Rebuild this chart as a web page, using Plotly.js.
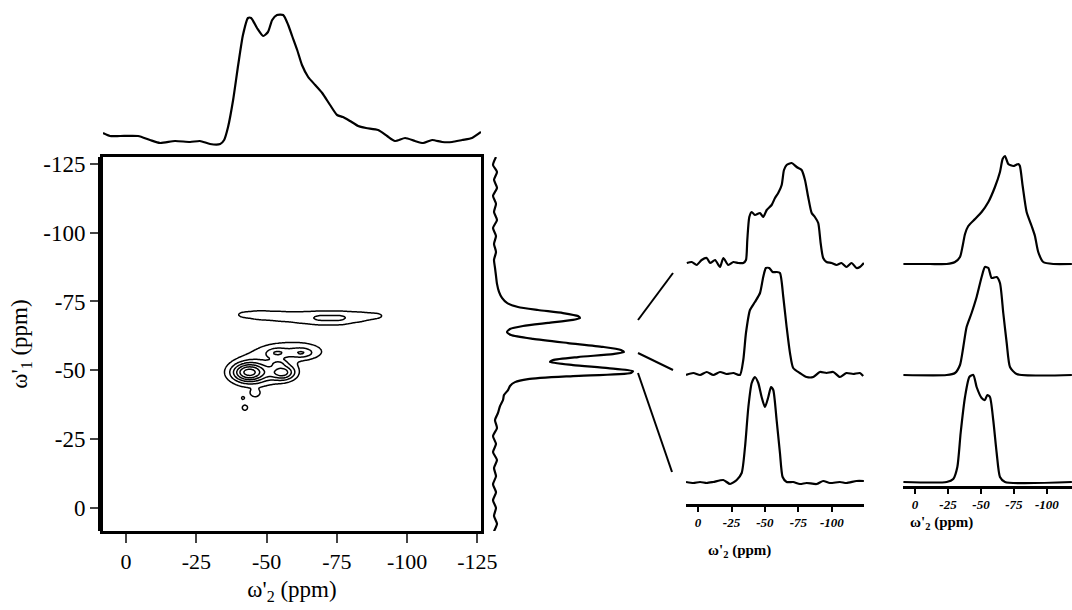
<!DOCTYPE html>
<html>
<head>
<meta charset="utf-8">
<script src="https://cdn.plot.ly/plotly-3.0.1.min.js"></script>
<style>html,body{margin:0;padding:0;background:#fff;}#chart{width:1072px;height:610px;}</style>
</head>
<body>
<div id="chart"></div>
<script>
// ---------- main 2D spectrum: peaks ----------
var peakW2 = [-41, -48, -55, -62, -69, -76, -83, -90, -60, -47, -43.6, -55.9, -53.7, -62.6, -54.1, -45.9, -42.3, -41.6];
var peakW1 = [-70.2, -70.0, -69.6, -69.2, -69.0, -69.0, -69.4, -69.8, -57, -50, -49.2, -49.2, -56.3, -56.3, -52.6, -41.6, -36.4, -39.9];
var peakSx = [3.5, 3.5, 3.5, 3.5, 3.5, 3.5, 3.5, 3.5, 9, 7, 4.2, 3.2, 2.6, 2.8, 2.0, 1.3, 1.0, 0.6];
var peakSy = [1.8, 2.1, 2.2, 2.2, 2.0, 2.0, 2.0, 1.7, 3.0, 5.0, 2.4, 2.0, 1.2, 1.2, 0.9, 1.0, 1.0, 0.6];
var peakAmp = [0.19, 0.22, 0.22, 0.24, 0.36, 0.36, 0.23, 0.19, 0.33, 0.30, 1.05, 0.78, 0.3, 0.3, 0.25, 0.3, 0.3, 0.25];
var contourLevels = {start: 0.2, end: 2.0, size: 0.2};

// ---------- top projection (omega'2) ----------
var topW2 = [8.2, 5.7, 2.1, -4.3, -8.5, -12.1, -17.4, -22.8, -26.3, -29.9, -33.5, -34.9, -36.3, -38.1, -39.9, -41.6, -43.4, -44.5, -46.6, -48.8, -50.5, -52.0, -53.7, -55.9, -57.7, -59.1, -60.9, -62.6, -64.8, -67.3, -69.8, -72.6, -75.1, -77.2, -79.7, -82.6, -85.4, -89.7, -92.9, -95.7, -99.3, -102.8, -105.7, -108.9, -112.5, -116.0, -119.6, -123.1, -126.3];
var topI  = [12, 9, 9, 9, 5, 2, 4, 3, 4, 1, 1, 5, 18, 45, 80, 110, 127, 127, 117, 109, 113, 125, 130, 130, 120, 109, 95, 80, 68, 60, 52, 40, 30, 28, 24, 19, 17, 15, 9, 4, 7, 4, 2, 5, 3, 3, 5, 7, 13];

// ---------- right projection (omega'1) ----------
var rightW1 = [-127.5, -124.6, -122.1, -119.2, -116.3, -113.4, -110.5, -107.5, -104.6, -101.7, -98.8, -95.9, -93.0, -90.1, -87.2, -84.3, -81.4, -78.5, -76.3, -74.5, -73.0, -71.9, -70.8, -69.7, -69.0, -68.3, -67.2, -66.1, -65.0, -63.9, -62.8, -61.4, -59.9, -58.5, -57.4, -56.6, -55.9, -54.8, -53.7, -53.0, -51.9, -50.8, -49.7, -49.0, -47.9, -46.8, -45.7, -44.3, -42.8, -41.0, -39.2, -37.0, -34.5, -31.9, -29.0, -26.1, -23.2, -20.3, -17.4, -14.5, -11.5, -8.6, -5.7, -2.8, 0, 2.9, 5.8, 8.5];
var rightI  = [3, 0, 4, 1, 4, 0, 3, 1, 4, 0, 3, 1, 3, 1, 2, 3, 4, 6, 9, 14, 25, 45, 70, 85, 87, 80, 55, 30, 17, 14, 18, 40, 75, 110, 128, 131, 120, 85, 60, 57, 80, 115, 140, 138, 80, 35, 22, 17, 15, 11, 10, 7, 5, 2, 4, 0, 3, 0, 4, 1, 3, 0, 3, 0, 3, 1, 4, 1];

// ---------- slices, experimental column ----------
var expTopW2 = [8.4, 4.7, 1.0, -2.7, -6.5, -9.0, -12.7, -16.4, -18.9, -22.6, -26.4, -30.1, -33.8, -35.8, -36.8, -38.3, -40.1, -42.5, -46.3, -48.7, -51.3, -55.0, -57.5, -59.9, -62.5, -64.2, -66.2, -69.9, -73.7, -77.4, -79.9, -82.3, -84.9, -87.3, -89.8, -91.6, -93.5, -96.0, -99.8, -103.5, -107.2, -110.9, -114.7, -118.4, -120.9, -123.9];
var expTopI  = [1, 2, -1, 4, 6, 1, 4, -3, 6, -1, 2, 1, 1, 4, 24, 47, 52, 49, 51, 47, 54, 59, 66, 71, 79, 94, 99, 101, 97, 94, 84, 67, 51, 47, 41, 21, 6, 2, 1, -1, 1, -3, 1, -4, -3, 1];
var expMidW2 = [9.0, 3.5, -1.5, -6.5, -11.4, -16.4, -21.4, -26.4, -31.3, -33.8, -35.8, -38.8, -42.5, -46.3, -48.7, -50.7, -53.2, -55.7, -58.7, -61.2, -63.7, -66.2, -68.7, -71.1, -76.1, -81.1, -86.1, -91.0, -96.0, -101.0, -106.0, -110.9, -115.9, -120.9, -123.4];
var expMidI  = [0, 2, 0, 3, 0, 3, 1, 2, 0, 15, 42, 65, 73, 82, 98, 107, 107, 103, 103, 102, 78, 48, 22, 7, 2, -2, -2, 3, 2, 3, -2, 2, 1, 2, -1];
var expBotW2 = [9.0, 3.5, -1.5, -6.5, -11.4, -18.9, -23.9, -28.9, -32.6, -35.1, -37.6, -40.1, -42.5, -45.0, -47.5, -50.0, -52.5, -54.5, -56.2, -58.7, -61.2, -63.2, -66.2, -71.1, -76.1, -81.1, -88.6, -93.5, -98.5, -106.0, -110.9, -118.4, -123.9];
var expBotI  = [0, -1, 0, -1, 0, 2, -2, 2, 9, 35, 75, 99, 105, 99, 85, 75, 85, 95, 92, 62, 29, 5, 0, 0, -2, -1, -2, 1, -1, 0, -1, 1, 1];

// ---------- slices, simulated column ----------
var simTopW2 = [8.8, -11.4, -24.0, -30.3, -34.1, -36.1, -37.9, -40.4, -45.5, -50.5, -55.6, -60.6, -64.4, -66.4, -68.2, -70.7, -74.5, -78.3, -79.5, -81.6, -84.6, -88.4, -90.9, -93.4, -97.2, -104.8, -118.9];
var simTopI  = [0, 0, 0, 2, 7, 18, 30, 38, 45, 52, 62, 77, 92, 105, 108, 100, 98, 100, 98, 78, 52, 38, 28, 12, 2, 0, 0];
var simMidW2 = [8.8, -24.0, -30.3, -34.1, -36.6, -39.1, -42.9, -46.7, -50.5, -53.0, -55.6, -58.1, -61.9, -64.4, -66.9, -69.5, -72.0, -77.0, -118.9];
var simMidI  = [0, 0, 2, 10, 28, 48, 62, 78, 98, 108, 107, 97, 98, 92, 62, 32, 8, 1, 0];
var simBotW2 = [8.8, -24.0, -29.0, -32.1, -34.6, -37.9, -41.2, -44.2, -46.7, -50.5, -53.0, -54.8, -56.8, -59.3, -61.9, -64.4, -68.2, -118.9];
var simBotI  = [0, 0, 3, 15, 49, 85, 105, 107, 95, 84, 82, 87, 85, 62, 29, 5, 0, 0];

var mainTicks = [0, -25, -50, -75, -100, -125];
var mainTickText = ['0', '-25', '-50', '-75', '-100', '-125'];
var sliceTicks = [0, -25, -50, -75, -100];
var sliceTickText = ['0', '-25', '-50', '-75', '-100'];

// ---------- build contour grid from the peak list ----------
var gx = [], gy = [], gz = [];
for (var v = 10; v >= -130; v -= 0.5) gx.push(v);
for (var w = 10; w >= -130; w -= 0.5) gy.push(w);
for (var j = 0; j < gy.length; j++) {
  var row = [];
  for (var i = 0; i < gx.length; i++) {
    var s = 0;
    for (var p = 0; p < peakAmp.length; p++) {
      var dx = (gx[i] - peakW2[p]) / peakSx[p];
      var dy = (gy[j] - peakW1[p]) / peakSy[p];
      s += peakAmp[p] * Math.exp(-0.5 * (dx * dx + dy * dy));
    }
    row.push(s);
  }
  gz.push(row);
}

// pixel helpers for layout geometry (margins are zero)
var W = 1072, H = 610;
function px(x) { return x / W; }
function py(y) { return 1 - y / H; }

var serif = 'Liberation Serif';
var lineStyle = {color: '#000', width: 2.2, shape: 'spline', smoothing: 0.6};

var traces = [
  {type: 'contour', x: gx, y: gy, z: gz, xaxis: 'x', yaxis: 'y',
   contours: {coloring: 'lines', start: contourLevels.start, end: contourLevels.end, size: contourLevels.size},
   line: {color: '#000', width: 1.5, smoothing: 1}, showscale: false, hoverinfo: 'skip',
   colorscale: [[0, '#000'], [1, '#000']]},
  {type: 'scatter', mode: 'lines', x: topW2, y: topI, xaxis: 'x2', yaxis: 'y2', line: lineStyle},
  {type: 'scatter', mode: 'lines', x: rightI, y: rightW1, xaxis: 'x3', yaxis: 'y3', line: lineStyle},
  {type: 'scatter', mode: 'lines', x: expTopW2, y: expTopI, xaxis: 'x4', yaxis: 'y4', line: lineStyle},
  {type: 'scatter', mode: 'lines', x: expMidW2, y: expMidI, xaxis: 'x4', yaxis: 'y5', line: lineStyle},
  {type: 'scatter', mode: 'lines', x: expBotW2, y: expBotI, xaxis: 'x4', yaxis: 'y6', line: lineStyle},
  {type: 'scatter', mode: 'lines', x: simTopW2, y: simTopI, xaxis: 'x5', yaxis: 'y4', line: lineStyle},
  {type: 'scatter', mode: 'lines', x: simMidW2, y: simMidI, xaxis: 'x5', yaxis: 'y5', line: lineStyle},
  {type: 'scatter', mode: 'lines', x: simBotW2, y: simBotI, xaxis: 'x5', yaxis: 'y6', line: lineStyle}
];

function hid(extra) { var o = {visible: false}; for (var k in extra) o[k] = extra[k]; return o; }

var sliceAxis = function (dom, rng, pos) {
  return {domain: dom, range: rng, anchor: 'free', position: pos, showgrid: false, zeroline: false,
    showline: true, linecolor: '#000', linewidth: 2.5, ticks: 'outside', ticklen: 5, tickwidth: 2, tickcolor: '#000',
    tickvals: sliceTicks, ticktext: sliceTickText,
    tickfont: {family: serif, size: 13, color: '#000', style: 'italic', weight: 'bold'}};
};

var layout = {
  width: W, height: H, margin: {l: 0, r: 0, t: 0, b: 0},
  paper_bgcolor: '#fff', plot_bgcolor: 'rgba(0,0,0,0)', showlegend: false,
  font: {family: serif, color: '#000'},
  xaxis: {domain: [px(103), px(481)], range: [8.2, -126.3], anchor: 'y', showgrid: false, zeroline: false,
    showline: true, mirror: true, linecolor: '#000', linewidth: 3, ticks: 'outside', ticklen: 9, tickwidth: 2,
    tickvals: mainTicks, ticktext: mainTickText, tickfont: {family: serif, size: 22, color: '#000'},
    title: {text: "\u03c9'<sub>2</sub> (ppm)", font: {family: serif, size: 23, color: '#000'}, standoff: 8}},
  yaxis: {domain: [py(531), py(157)], range: [8.4, -127.5], anchor: 'x', showgrid: false, zeroline: false,
    showline: true, mirror: true, linecolor: '#000', linewidth: 3, ticks: 'outside', ticklen: 10, tickwidth: 2,
    tickvals: mainTicks, ticktext: mainTickText, tickfont: {family: serif, size: 23, color: '#000'},
    title: {text: "\u03c9'<sub>1</sub> (ppm)", font: {family: serif, size: 23, color: '#000'}, standoff: 10}},
  xaxis2: hid({domain: [px(103), px(481)], range: [8.2, -126.3], anchor: 'y2'}),
  yaxis2: hid({domain: [py(155), py(5)], range: [-10, 140], anchor: 'x2'}),
  xaxis3: hid({domain: [px(490), px(638)], range: [-3, 145], anchor: 'y3'}),
  yaxis3: hid({domain: [py(531), py(157)], range: [8.4, -127.5], anchor: 'x3'}),
  xaxis4: sliceAxis([px(686), px(864)], [9, -124], py(505)),
  xaxis5: sliceAxis([px(903), 1], [9.1, -119], py(487)),
  yaxis4: hid({domain: [py(272), py(152)], range: [-8, 112], anchor: 'x4'}),
  yaxis5: hid({domain: [py(383), py(263)], range: [-8, 112], anchor: 'x4'}),
  yaxis6: hid({domain: [py(490), py(370)], range: [-8, 112], anchor: 'x4'}),
  shapes: [
    {type: 'line', xref: 'paper', yref: 'paper', x0: px(673), y0: py(273), x1: px(638), y1: py(320), line: {color: '#000', width: 2}},
    {type: 'line', xref: 'paper', yref: 'paper', x0: px(638), y0: py(353), x1: px(673), y1: py(370), line: {color: '#000', width: 2}},
    {type: 'line', xref: 'paper', yref: 'paper', x0: px(638), y0: py(373), x1: px(672), y1: py(472), line: {color: '#000', width: 2}},
    {type: 'line', xref: 'paper', yref: 'paper', x0: px(99), y0: py(157), x1: px(99), y1: py(531), line: {color: '#000', width: 2}}
  ],
  annotations: [
    {xref: 'paper', yref: 'paper', x: px(773), y: py(551), yanchor: 'middle', text: "\u03c9'<sub>2</sub> (ppm)", showarrow: false,
     font: {family: serif, size: 15, color: '#000', weight: 'bold'}},
    {xref: 'paper', yref: 'paper', x: px(975), y: py(523), yanchor: 'middle', text: "\u03c9'<sub>2</sub> (ppm)", showarrow: false,
     font: {family: serif, size: 15, color: '#000', weight: 'bold'}}
  ]
};

Plotly.newPlot('chart', traces, layout, {staticPlot: true, displayModeBar: false});
</script>
</body>
</html>
